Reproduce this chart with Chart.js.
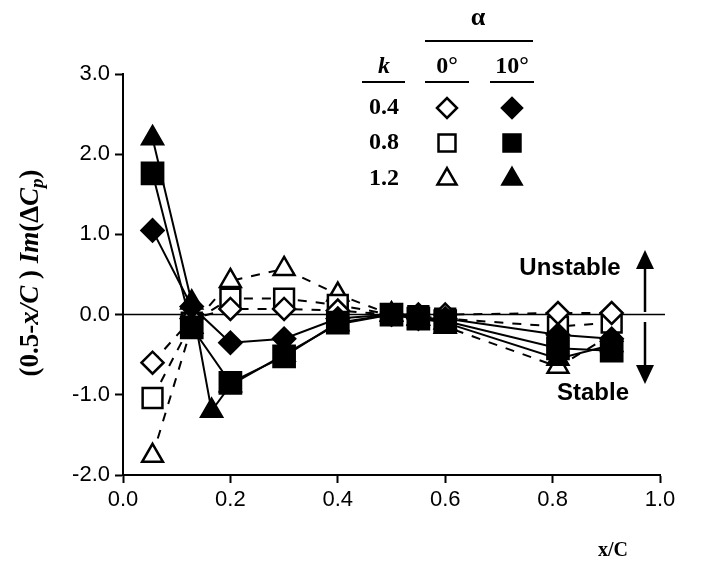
<!DOCTYPE html>
<html>
<head>
<meta charset="utf-8">
<script src="https://cdn.jsdelivr.net/npm/chart.js@4/dist/chart.umd.min.js"></script>
<style>
  html, body { margin: 0; padding: 0; background: #fff; }
  #wrap { width: 707px; height: 563px; }
</style>
</head>
<body>
<div id="wrap"><canvas id="chart" width="707" height="563"></canvas></div>
<script>
// x positions (x/C)
const xTaps = [0.055, 0.128, 0.2, 0.3, 0.4, 0.5, 0.55, 0.6, 0.81, 0.91];
const xTapsK12 = [0.055, 0.128, 0.165, 0.2, 0.3, 0.4, 0.5, 0.55, 0.6, 0.81, 0.91];

// alpha = 0 deg (open symbols, dashed)
const k04a0 = [-0.6, -0.05, 0.07, 0.07, 0.05, 0.0, 0.0, 0.0, 0.02, 0.02];
const k08a0 = [-1.04, -0.1, 0.2, 0.2, 0.12, 0.0, -0.02, -0.05, -0.15, -0.1];
const k12a0 = [-1.76, -0.15, 0.42, 0.57, 0.25, 0.0, -0.05, -0.15, -0.65, -0.25];

// alpha = 10 deg (filled symbols, solid)
const k04a10 = [1.05, 0.1, -0.35, -0.3, -0.05, 0.0, -0.05, -0.05, -0.25, -0.3];
const k08a10 = [1.76, -0.16, -0.85, -0.52, -0.1, 0.0, -0.05, -0.08, -0.42, -0.45];
const k12a10 = [2.2, 0.15, -1.2, -0.88, -0.5, -0.12, 0.0, -0.05, -0.1, -0.55, -0.38];

const yTicks = [-2, -1, 0, 1, 2, 3];
const xTicks = [0, 0.2, 0.4, 0.6, 0.8, 1.0];

function pts(xs, ys) {
  return xs.map((x, i) => ({ x: x, y: ys[i] }));
}

function series(label, xs, ys, style, radius, open) {
  return {
    label: label,
    data: pts(xs, ys),
    showLine: true,
    borderColor: '#000',
    borderWidth: 2,
    borderDash: open ? [9, 9] : [],
    pointStyle: style,
    pointRadius: radius,
    pointBorderWidth: 2.5,
    pointBorderColor: '#000',
    pointBackgroundColor: open ? '#fff' : '#000',
    backgroundColor: open ? '#fff' : '#000'
  };
}

const serif = '"Liberation Serif", "Times New Roman", serif';
const sans = '"Liberation Sans", Arial, sans-serif';

function sym(ctx, style, x, y, r, open) {
  ctx.save();
  ctx.fillStyle = open ? '#fff' : '#000';
  ctx.strokeStyle = '#000';
  ctx.lineWidth = 2.5;
  Chart.helpers.drawPoint(ctx, { pointStyle: style, radius: r, rotation: 0, borderWidth: 2.5 }, x, y);
  ctx.restore();
}

function arrow(ctx, x, y0, y1) {
  const dir = y1 < y0 ? -1 : 1;
  ctx.beginPath();
  ctx.moveTo(x, y0);
  ctx.lineTo(x, y1 - dir * 14);
  ctx.stroke();
  ctx.beginPath();
  ctx.moveTo(x, y1);
  ctx.lineTo(x - 9, y1 - dir * 19);
  ctx.lineTo(x + 9, y1 - dir * 19);
  ctx.closePath();
  ctx.fill();
}

const decor = {
  id: 'decor',
  beforeDatasetsDraw(chart) {
    const ctx = chart.ctx;
    const y0 = chart.scales.y.getPixelForValue(0);
    ctx.save();
    ctx.strokeStyle = '#000';
    ctx.lineWidth = 1.5;
    ctx.beginPath();
    ctx.moveTo(chart.chartArea.left, y0);
    ctx.lineTo(chart.chartArea.right + 5, y0);
    ctx.stroke();
    ctx.restore();
  },
  afterDraw(chart) {
    const ctx = chart.ctx;
    ctx.save();
    ctx.fillStyle = '#000';
    ctx.strokeStyle = '#000';

    // y axis title with mixed styles
    const segs = [
      ['bold 27px ' + serif, '(0.5-', 0],
      ['italic bold 27px ' + serif, 'x/C', 0],
      ['bold 27px ' + serif, ' ) ', 0],
      ['italic bold 27px ' + serif, 'Im', 0],
      ['bold 27px ' + serif, '(\u0394', 0],
      ['italic bold 27px ' + serif, 'C', 0],
      ['italic bold 19px ' + serif, 'p', 7],
      ['bold 27px ' + serif, ')', 0]
    ];
    let total = 0;
    segs.forEach(s => { ctx.font = s[0]; total += ctx.measureText(s[1]).width; });
    ctx.translate(31, 273);
    ctx.rotate(-Math.PI / 2);
    ctx.textBaseline = 'middle';
    ctx.textAlign = 'left';
    let cx = -total / 2;
    segs.forEach(s => {
      ctx.font = s[0];
      ctx.fillText(s[1], cx, s[2]);
      cx += ctx.measureText(s[1]).width;
    });
    ctx.setTransform(1, 0, 0, 1, 0, 0);

    // x axis title
    ctx.font = 'bold 20px ' + serif;
    ctx.textAlign = 'center';
    ctx.textBaseline = 'middle';
    ctx.fillText('x/C', 613, 551);

    // stability annotation
    ctx.font = 'bold 24px ' + sans;
    ctx.fillText('Unstable', 570, 268);
    ctx.fillText('Stable', 593, 393);
    ctx.lineWidth = 2.5;
    arrow(ctx, 645, 312, 250);
    arrow(ctx, 645, 322, 384);

    // legend table
    ctx.font = 'bold 26px ' + serif;
    ctx.fillText('\u03b1', 478, 18);
    ctx.lineWidth = 2;
    ctx.beginPath();
    ctx.moveTo(425, 41); ctx.lineTo(533, 41);
    ctx.moveTo(362, 82); ctx.lineTo(405, 82);
    ctx.moveTo(425, 82); ctx.lineTo(469, 82);
    ctx.moveTo(490, 82); ctx.lineTo(534, 82);
    ctx.stroke();
    ctx.font = 'italic bold 24px ' + serif;
    ctx.fillText('k', 384, 67);
    ctx.font = 'bold 24px ' + serif;
    ctx.fillText('0\u00b0', 447, 67);
    ctx.fillText('10\u00b0', 512, 67);
    const rows = [['0.4', 'rectRot', 10, 108], ['0.8', 'rect', 12, 143], ['1.2', 'triangle', 11, 179]];
    rows.forEach(r => {
      ctx.font = 'bold 24px ' + serif;
      ctx.fillStyle = '#000';
      ctx.fillText(r[0], 384, r[3]);
      sym(ctx, r[1], 447, r[3], r[2], true);
      sym(ctx, r[1], 512, r[3], r[2], false);
    });
    ctx.restore();
  }
};

new Chart(document.getElementById('chart').getContext('2d'), {
  type: 'scatter',
  data: {
    datasets: [
      series('k=0.4, 10\u00b0', xTaps, k04a10, 'rectRot', 11, false),
      series('k=0.8, 10\u00b0', xTaps, k08a10, 'rect', 15, false),
      series('k=1.2, 10\u00b0', xTapsK12, k12a10, 'triangle', 12, false),
      series('k=0.4, 0\u00b0', xTaps, k04a0, 'rectRot', 11, true),
      series('k=0.8, 0\u00b0', xTaps, k08a0, 'rect', 14, true),
      series('k=1.2, 0\u00b0', xTaps, k12a0, 'triangle', 12, true)
    ]
  },
  options: {
    responsive: false,
    animation: false,
    layout: { padding: { top: 74, right: 47, left: 0, bottom: 0 } },
    plugins: {
      legend: { display: false },
      tooltip: { enabled: false }
    },
    scales: {
      x: {
        type: 'linear',
        min: 0,
        max: 1,
        afterFit: s => { s.height = 88; },
        afterBuildTicks: s => { s.ticks = xTicks.map(v => ({ value: v })); },
        ticks: {
          color: '#000',
          padding: 4,
          font: { family: sans, size: 22 },
          callback: v => v.toFixed(1)
        },
        grid: { drawOnChartArea: false, tickLength: 8, tickColor: '#000', tickWidth: 2 },
        border: { color: '#000', width: 2 }
      },
      y: {
        type: 'linear',
        min: -2,
        max: 3,
        afterFit: s => { s.width = 123; },
        afterBuildTicks: s => { s.ticks = yTicks.map(v => ({ value: v })); },
        ticks: {
          color: '#000',
          padding: 5,
          font: { family: sans, size: 22 },
          callback: v => v.toFixed(1)
        },
        grid: { drawOnChartArea: false, tickLength: 8, tickColor: '#000', tickWidth: 2 },
        border: { color: '#000', width: 2 }
      }
    }
  },
  plugins: [decor]
});
</script>
</body>
</html>
